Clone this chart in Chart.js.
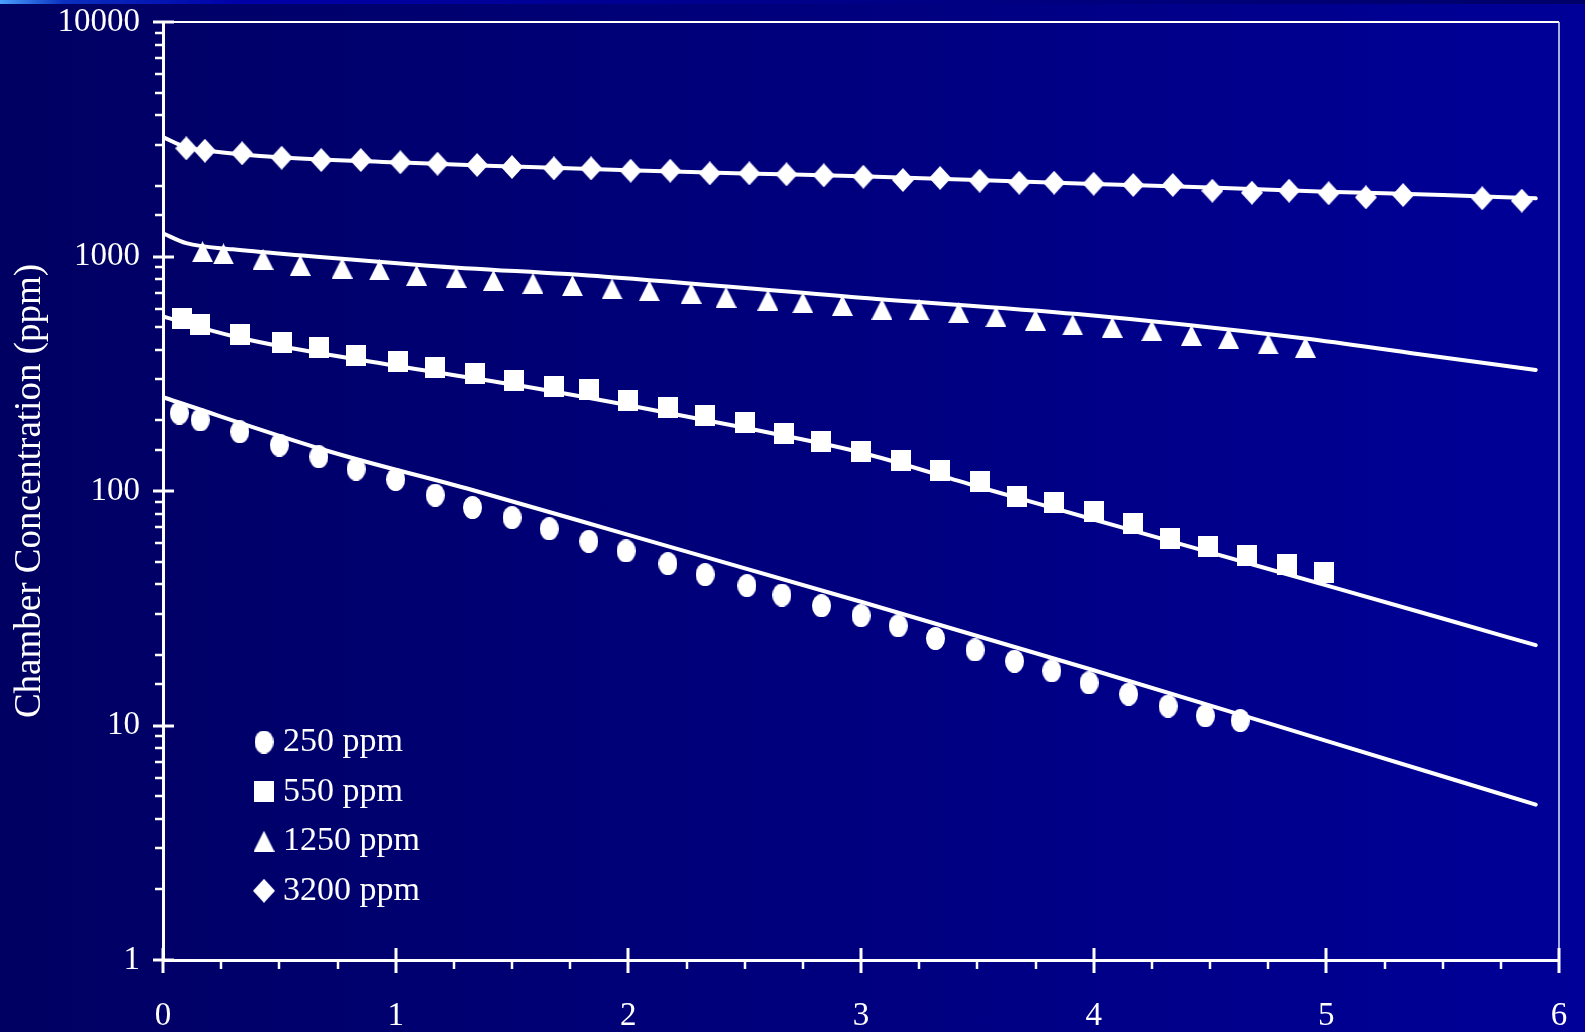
<!DOCTYPE html>
<html>
<head>
<meta charset="utf-8">
<script src="https://cdn.jsdelivr.net/npm/chart.js@4.4.1/dist/chart.umd.min.js"></script>
<style>
  html, body { margin: 0; padding: 0; }
  body {
    width: 1585px; height: 1032px; overflow: hidden; position: relative;
    background: linear-gradient(to right, #000062 0%, #00007a 45%, #000098 100%);
  }
  #strip {
    position: absolute; left: 0; top: 0; width: 1585px; height: 4px;
    background: linear-gradient(to right, #4aa0ff 0%, #0a30c0 4%, #0000a8 15%, #00008a 50%, #000068 100%);
  }
  #myChart { position: absolute; left: 0; top: 0; }
</style>
</head>
<body>
<div id="strip"></div>
<canvas id="myChart" width="1585" height="1032"></canvas>
<script>
// measured points (hours, ppm)
const hours250 = [0.07, 0.16, 0.33, 0.5, 0.67, 0.83, 1.0, 1.17, 1.33, 1.5, 1.66, 1.83, 1.99, 2.17, 2.33, 2.51, 2.66, 2.83, 3.0, 3.16, 3.32, 3.49, 3.66, 3.82, 3.98, 4.15, 4.32, 4.48, 4.63];
const ppm250 = [215, 201, 179, 157, 140, 124, 112, 96, 85, 77, 69, 61, 55.5, 49, 44, 39.5, 36, 32.4, 29.4, 26.6, 23.5, 21, 18.8, 17.1, 15.2, 13.6, 12.1, 11, 10.5];

const hours550 = [0.08, 0.16, 0.33, 0.51, 0.67, 0.83, 1.01, 1.17, 1.34, 1.51, 1.68, 1.83, 2.0, 2.17, 2.33, 2.5, 2.67, 2.83, 3.0, 3.17, 3.34, 3.51, 3.67, 3.83, 4.0, 4.17, 4.33, 4.49, 4.66, 4.83, 4.99];
const ppm550 = [545, 514, 466, 429, 408, 380, 355, 337, 318, 295, 278, 270, 243, 228, 210, 196, 176, 162, 148, 135, 122, 110, 95, 89, 82, 73, 63, 58, 53, 48.4, 44.8];

const hours1250 = [0.17, 0.26, 0.43, 0.59, 0.77, 0.93, 1.09, 1.26, 1.42, 1.59, 1.76, 1.93, 2.09, 2.27, 2.42, 2.6, 2.75, 2.92, 3.09, 3.25, 3.42, 3.58, 3.75, 3.91, 4.08, 4.25, 4.42, 4.58, 4.75, 4.91];
const ppm1250 = [1048, 1025, 973, 917, 893, 876, 831, 815, 791, 769, 751, 727, 715, 697, 670, 652, 635, 619, 596, 592, 576, 554, 536, 511, 499, 483, 461, 448, 424, 410];

const hours3200 = [0.1, 0.18, 0.34, 0.51, 0.68, 0.85, 1.02, 1.18, 1.35, 1.5, 1.68, 1.84, 2.01, 2.18, 2.35, 2.52, 2.68, 2.84, 3.01, 3.18, 3.34, 3.51, 3.68, 3.83, 4.0, 4.17, 4.34, 4.51, 4.68, 4.84, 5.01, 5.17, 5.33, 5.67, 5.84];
const ppm3200 = [2893, 2826, 2755, 2638, 2579, 2579, 2522, 2487, 2456, 2408, 2377, 2377, 2322, 2322, 2263, 2263, 2241, 2219, 2189, 2120, 2162, 2105, 2064, 2064, 2044, 2018, 2018, 1908, 1871, 1908, 1860, 1788, 1829, 1771, 1730];

// model curves
const fitHours250 = [0, 0.72, 1.33, 2, 3, 4, 5, 5.9];
const fit250 = [251, 147, 101, 65, 33.7, 17.2, 8.6, 4.6];
const fitHours550 = [0, 0.17, 0.33, 0.5, 1, 1.5, 2, 2.5, 3, 3.5, 4, 4.5, 5, 5.5, 5.9];
const fit550 = [555, 495, 450, 415, 342, 285, 232, 186, 146, 104.5, 75.6, 54.7, 39.6, 28.6, 22];
const fitHours1250 = [0, 0.1, 0.3, 0.6, 1.14, 1.9, 3, 3.93, 4.9, 5.4, 5.9];
const fit1250 = [1256, 1140, 1073, 1010, 914, 820, 667, 568, 448, 383, 328];
const fitHours3200 = [0, 0.1, 0.2, 0.5, 1, 1.5, 2, 2.5, 3, 3.5, 4, 4.5, 5, 5.5, 5.9];
const fit3200 = [3230, 2920, 2820, 2650, 2520, 2420, 2330, 2260, 2200, 2120, 2040, 1970, 1890, 1830, 1770];

const seriesLabels = ['250 ppm', '550 ppm', '1250 ppm', '3200 ppm'];
const xTickStep = 0.25;

const FONT = '"Liberation Serif", "Times New Roman", serif';

function pts(xs, ys) {
    return xs.map((x, i) => ({ x: x, y: ys[i] }));
}

// marker images (slightly tall, like the original)
function makeMarker(kind, w, h) {
    const c = document.createElement('canvas');
    c.width = w;
    c.height = h;
    const g = c.getContext('2d');
    g.fillStyle = '#ffffff';
    g.beginPath();
    if (kind === 'ellipse') {
        g.ellipse(w / 2, h / 2, w / 2, h / 2, 0, 0, Math.PI * 2);
    } else if (kind === 'square') {
        g.rect(0, 0, w, h);
    } else if (kind === 'triangle') {
        g.moveTo(w / 2, 0);
        g.lineTo(w, h);
        g.lineTo(0, h);
        g.closePath();
    } else {
        g.moveTo(w / 2, 0);
        g.lineTo(w, h / 2);
        g.lineTo(w / 2, h);
        g.lineTo(0, h / 2);
        g.closePath();
    }
    g.fill();
    return c;
}

const markers = [
    makeMarker('ellipse', 19, 23),
    makeMarker('square', 20, 21),
    makeMarker('triangle', 21, 21),
    makeMarker('diamond', 22, 24),
];

function markerSet(label, xs, ys, img) {
    return {
        label: label,
        data: pts(xs, ys),
        showLine: false,
        pointStyle: img,
        pointRadius: 11,
        borderColor: '#fff',
        backgroundColor: '#fff',
    };
}

function fitSet(xs, ys) {
    return {
        label: '',
        data: pts(xs, ys),
        showLine: true,
        borderColor: '#ffffff',
        borderWidth: 4,
        borderCapStyle: 'round',
        pointRadius: 0,
        cubicInterpolationMode: 'monotone',
        fill: false,
    };
}

// frame, tick marks and the inner legend
const frameAndTicks = {
    id: 'frameAndTicks',
    afterDraw(chart) {
        const { ctx, chartArea: a, scales: { x, y } } = chart;
        ctx.save();
        ctx.strokeStyle = '#ffffff';
        ctx.lineCap = 'butt';

        ctx.lineWidth = 2;
        ctx.beginPath();
        ctx.moveTo(a.left, a.top);
        ctx.lineTo(a.right, a.top);
        ctx.stroke();

        ctx.strokeStyle = '#e4e4f4';
        ctx.lineWidth = 1.5;
        ctx.beginPath();
        ctx.moveTo(a.right, a.top);
        ctx.lineTo(a.right, a.bottom);
        ctx.stroke();

        ctx.strokeStyle = '#ffffff';
        y.ticks.forEach(t => {
            const py = Math.round(y.getPixelForValue(t.value));
            const lg = Math.log10(t.value);
            const major = Math.abs(lg - Math.round(lg)) < 1e-9;
            ctx.lineWidth = major ? 3 : 2.5;
            ctx.beginPath();
            if (major) {
                ctx.moveTo(a.left - 10, py);
                ctx.lineTo(a.left + 11, py);
            } else {
                ctx.moveTo(a.left - 8, py);
                ctx.lineTo(a.left, py);
            }
            ctx.stroke();
        });

        x.ticks.forEach(t => {
            const px = Math.round(x.getPixelForValue(t.value));
            const major = Number.isInteger(t.value);
            ctx.lineWidth = major ? 3 : 2.5;
            ctx.beginPath();
            if (major) {
                ctx.moveTo(px, a.bottom - 12);
                ctx.lineTo(px, a.bottom + 13);
            } else {
                ctx.moveTo(px, a.bottom);
                ctx.lineTo(px, a.bottom + 9);
            }
            ctx.stroke();
        });

        // legend
        ctx.fillStyle = '#ffffff';
        ctx.font = '34px ' + FONT;
        ctx.textBaseline = 'middle';
        ctx.textAlign = 'left';
        seriesLabels.forEach((lab, i) => {
            const cy = a.top + 720 + i * 49.6;
            const img = markers[i];
            ctx.drawImage(img, a.left + 101 - img.width / 2, cy - img.height / 2);
            ctx.fillText(lab, a.left + 120, cy);
        });
        ctx.restore();
    }
};

const ctx = document.getElementById('myChart').getContext('2d');
const chart = new Chart(ctx, {
    type: 'scatter',
    data: {
        datasets: [
            fitSet(fitHours250, fit250),
            fitSet(fitHours550, fit550),
            fitSet(fitHours1250, fit1250),
            fitSet(fitHours3200, fit3200),
            markerSet(seriesLabels[0], hours250, ppm250, markers[0]),
            markerSet(seriesLabels[1], hours550, ppm550, markers[1]),
            markerSet(seriesLabels[2], hours1250, ppm1250, markers[2]),
            markerSet(seriesLabels[3], hours3200, ppm3200, markers[3]),
        ],
    },
    options: {
        responsive: false,
        animation: false,
        events: [],
        layout: { padding: { top: 22, right: 26, left: 0, bottom: 0 } },
        plugins: {
            legend: { display: false },
            tooltip: { enabled: false },
        },
        scales: {
            x: {
                type: 'linear',
                min: 0,
                max: 6,
                grid: { display: false, drawTicks: false },
                border: { display: true, color: '#ffffff', width: 3 },
                ticks: {
                    stepSize: xTickStep,
                    autoSkip: false,
                    maxRotation: 0,
                    padding: 37,
                    color: '#ffffff',
                    font: { family: FONT, size: 33 },
                    callback: v => (Number.isInteger(v) ? String(v) : ''),
                },
                afterFit: s => {
                    s.height = 72;
                    s.paddingLeft = 0;
                    s.paddingRight = 0;
                },
            },
            y: {
                type: 'logarithmic',
                min: 1,
                max: 10000,
                grid: { display: false, drawTicks: false },
                border: { display: true, color: '#ffffff', width: 3 },
                ticks: {
                    autoSkip: false,
                    padding: 23,
                    color: '#ffffff',
                    font: { family: FONT, size: 33 },
                    callback: v => {
                        const lg = Math.log10(v);
                        return Math.abs(lg - Math.round(lg)) < 1e-9 ? String(v) : '';
                    },
                },
                title: {
                    display: true,
                    text: 'Chamber Concentration (ppm)',
                    color: '#ffffff',
                    font: { family: FONT, size: 37 },
                    padding: { top: 8, bottom: 0 },
                },
                afterFit: s => {
                    s.width = 163;
                    s.paddingTop = 0;
                    s.paddingBottom = 0;
                },
            },
        },
    },
    plugins: [frameAndTicks],
});
</script>
</body>
</html>
